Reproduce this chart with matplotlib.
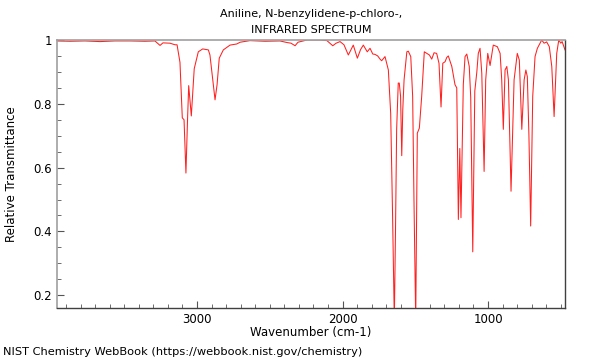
import matplotlib
matplotlib.use("Agg")
import matplotlib.pyplot as plt
from matplotlib.ticker import MultipleLocator, FuncFormatter

wavenumber = [3962, 3873, 3770, 3667, 3564, 3460, 3357, 3289, 3254, 3234, 3186, 3151, 3137,
              3117, 3101, 3089, 3076, 3065, 3057, 3039, 3019, 2991, 2961, 2922, 2911, 2893,
              2876, 2862, 2847, 2819, 2773, 2727, 2704, 2636, 2533, 2430, 2381, 2354, 2326,
              2306, 2244, 2155, 2107, 2067, 2044, 2017, 1990, 1960, 1926, 1898, 1876, 1857,
              1830, 1811, 1792, 1777, 1758, 1742, 1731, 1708, 1685, 1669, 1656, 1644, 1636,
              1628, 1617, 1610, 1601, 1593, 1586, 1577, 1558, 1548, 1531, 1518, 1509, 1497,
              1486, 1472, 1456, 1438, 1421, 1403, 1387, 1371, 1353, 1337, 1323, 1311, 1295,
              1284, 1273, 1249, 1227, 1215, 1204, 1194, 1186, 1170, 1158, 1146, 1129, 1119,
              1105, 1091, 1077, 1067, 1055, 1043, 1027, 1016, 1002, 986, 964, 936, 917, 906,
              895, 883, 871, 860, 842, 821, 799, 785, 768, 752, 740, 730, 719, 707, 693, 677,
              661, 631, 615, 597, 579, 562, 546, 528, 514, 500, 491, 471]
transmittance = [0.997, 0.996, 0.997, 0.995, 0.997, 0.997, 0.996, 0.997, 0.983, 0.991, 0.990,
                 0.985, 0.985, 0.930, 0.756, 0.750, 0.583, 0.750, 0.857, 0.762, 0.910, 0.963,
                 0.972, 0.969, 0.953, 0.880, 0.8125, 0.860, 0.943, 0.969, 0.984, 0.9875, 0.993,
                 0.998, 0.996, 0.997, 0.992, 0.990, 0.982, 0.993, 1.000, 1.000, 0.998, 0.982,
                 0.990, 0.995, 0.985, 0.953, 0.984, 0.943, 0.970, 0.984, 0.963, 0.974, 0.956,
                 0.955, 0.950, 0.940, 0.935, 0.948, 0.906, 0.770, 0.450, 0.120, 0.400, 0.720,
                 0.865, 0.865, 0.823, 0.6375, 0.780, 0.875, 0.963, 0.965, 0.948, 0.823, 0.500,
                 0.120, 0.708, 0.724, 0.823, 0.963, 0.958, 0.953, 0.940, 0.960, 0.958, 0.927,
                 0.790, 0.927, 0.932, 0.945, 0.950, 0.917, 0.860, 0.850, 0.4375, 0.660, 0.443,
                 0.860, 0.948, 0.956, 0.917, 0.820, 0.336, 0.840, 0.900, 0.958, 0.974, 0.896,
                 0.588, 0.875, 0.958, 0.920, 0.984, 0.979, 0.958, 0.875, 0.720, 0.906, 0.917,
                 0.875, 0.526, 0.875, 0.958, 0.937, 0.720, 0.875, 0.906, 0.885, 0.700, 0.417,
                 0.823, 0.948, 0.974, 1.000, 0.990, 0.994, 0.979, 0.917, 0.760, 0.958, 1.000,
                 0.990, 0.995, 0.969]

title_lines = ["Aniline, N-benzylidene-p-chloro-,", "INFRARED SPECTRUM"]
x_label = "Wavenumber (cm-1)"
y_label = "Relative Transmittance"
credit = "NIST Chemistry WebBook (https://webbook.nist.gov/chemistry)"

fig = plt.figure(figsize=(6, 3.6), dpi=100)
ax = fig.add_axes([0.095, 0.1444, 0.8467, 0.7445])
ax.plot(wavenumber, transmittance, color="#ff2020", lw=0.75)
ax.set_xlim(3962, 471)
ax.set_ylim(0.16, 1.0)

ax.xaxis.set_major_locator(MultipleLocator(1000))
ax.xaxis.set_minor_locator(MultipleLocator(100))
ax.yaxis.set_major_locator(MultipleLocator(0.2))
ax.yaxis.set_minor_locator(MultipleLocator(0.05))
ax.yaxis.set_major_formatter(FuncFormatter(lambda v, p: f"{v:g}"))
ax.xaxis.set_major_formatter(FuncFormatter(lambda v, p: f"{v:g}"))
ax.tick_params(which="both", direction="in", top=False, right=False, labelsize=8.5,
               colors="#555555", labelcolor="black")
ax.tick_params(which="major", length=5)
ax.tick_params(which="minor", length=3)

for side in ["top", "left"]:
    ax.spines[side].set_color("#a0a0a0")
    ax.spines[side].set_linewidth(1.2)
for side in ["bottom", "right"]:
    ax.spines[side].set_color("#404040")
    ax.spines[side].set_linewidth(1.0)

ax.set_xlabel(x_label, fontsize=8.5, labelpad=0)
ax.set_ylabel(y_label, fontsize=8.5, labelpad=11)
fig.text(0.518, 0.96, title_lines[0], ha="center", va="center", fontsize=8)
fig.text(0.518, 0.916, title_lines[1], ha="center", va="center", fontsize=8)
fig.text(0.005, 0.022, credit, ha="left", va="center", fontsize=8.2)

fig.savefig("out.png", dpi=100)
